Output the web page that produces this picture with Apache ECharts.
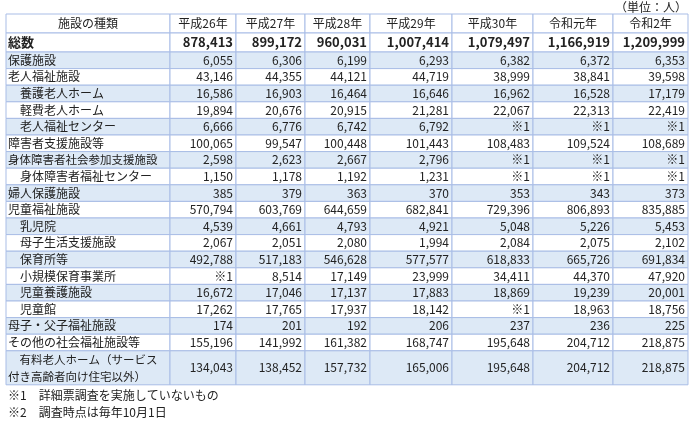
<!DOCTYPE html>
<html><head><meta charset="utf-8">
<script src="https://cdn.jsdelivr.net/npm/echarts@6/dist/echarts.min.js"></script>
<style>html,body{margin:0;padding:0;background:#fff}#c{width:693px;height:426px}</style>
</head><body><div id="c"></div>
<script>
var years = ['平成26年', '平成27年', '平成28年', '平成29年', '平成30年', '令和元年', '令和2年'];
var categories = ['総数', '保護施設', '老人福祉施設', '　養護老人ホーム', '　軽費老人ホーム', '　老人福祉センター',
    '障害者支援施設等', '身体障害者社会参加支援施設', '　身体障害者福祉センター', '婦人保護施設', '児童福祉施設',
    '　乳児院', '　母子生活支援施設', '　保育所等', '　小規模保育事業所', '　児童養護施設', '　児童館',
    '母子・父子福祉施設', 'その他の社会福祉施設等', '　有料老人ホーム（サービス\n付き高齢者向け住宅以外）'];
// null = ※1
var values = [
    [878413, 899172, 960031, 1007414, 1079497, 1166919, 1209999],
    [6055, 6306, 6199, 6293, 6382, 6372, 6353],
    [43146, 44355, 44121, 44719, 38999, 38841, 39598],
    [16586, 16903, 16464, 16646, 16962, 16528, 17179],
    [19894, 20676, 20915, 21281, 22067, 22313, 22419],
    [6666, 6776, 6742, 6792, null, null, null],
    [100065, 99547, 100448, 101443, 108483, 109524, 108689],
    [2598, 2623, 2667, 2796, null, null, null],
    [1150, 1178, 1192, 1231, null, null, null],
    [385, 379, 363, 370, 353, 343, 373],
    [570794, 603769, 644659, 682841, 729396, 806893, 835885],
    [4539, 4661, 4793, 4921, 5048, 5226, 5453],
    [2067, 2051, 2080, 1994, 2084, 2075, 2102],
    [492788, 517183, 546628, 577577, 618833, 665726, 691834],
    [null, 8514, 17149, 23999, 34411, 44370, 47920],
    [16672, 17046, 17137, 17883, 18869, 19239, 20001],
    [17262, 17765, 17937, 18142, null, 18963, 18756],
    [174, 201, 192, 206, 237, 236, 225],
    [155196, 141992, 161382, 168747, 195648, 204712, 218875],
    [134043, 138452, 157732, 165006, 195648, 204712, 218875]
];
var headerLabel = '施設の種類';
var unitNote = '（単位：人）';
var footnotes = ['※1　詳細票調査を実施していないもの', '※2　調査時点は毎年10月1日'];

// layout
var colX = [6, 170, 236, 305, 370, 452, 533, 613, 688];
var rowY = [14, 33, 52];
for (var r = 1; r < categories.length; r++) {
    rowY.push(rowY[rowY.length - 1] + (r === categories.length - 1 ? 34 : 16.6));
}
var font = '"Noto Sans CJK JP", sans-serif';

var cells = [];
for (var i = -1; i < categories.length; i++) {
    for (var j = -1; j < years.length; j++) {
        var txt;
        if (i < 0) txt = j < 0 ? headerLabel : years[j];
        else if (j < 0) txt = categories[i];
        else txt = values[i][j] === null ? '※1' : values[i][j].toLocaleString('en-US');
        cells.push([j + 1, i + 1, txt]);
    }
}

var chart = echarts.init(document.getElementById('c'));
chart.setOption({
    animation: false,
    grid: { left: 0, right: 0, top: 0, bottom: 0 },
    xAxis: { type: 'value', min: 0, max: 693, show: false },
    yAxis: { type: 'value', min: 0, max: 426, inverse: true, show: false },
    series: [{
        type: 'custom',
        data: cells,
        renderItem: function (params, api) {
            var c = api.value(0), r = api.value(1), txt = cells[params.dataIndex][2];
            var p0 = api.coord([colX[c], rowY[r]]), p1 = api.coord([colX[c + 1], rowY[r + 1]]);
            var shaded = r >= 2 && r % 2 === 0;
            var header = r === 0, bold = r === 1;
            var align = header ? 'center' : (c === 0 ? 'left' : 'right');
            var tx = header ? (p0[0] + p1[0]) / 2 : (c === 0 ? p0[0] + 2 : p1[0] - 3);
            return {
                type: 'group',
                children: [{
                    type: 'rect',
                    shape: { x: p0[0], y: p0[1], width: p1[0] - p0[0], height: p1[1] - p0[1] },
                    style: { fill: shaded ? '#dde9f6' : '#fff', stroke: '#a9bde6', lineWidth: 1 }
                }, {
                    type: 'text',
                    style: {
                        x: tx, y: (p0[1] + p1[1]) / 2, text: txt, align: align, verticalAlign: 'middle',
                        font: (bold ? 'bold 13px ' : (c === 0 && txt.length > 12 ? '11.5px ' : '12px ')) + font,
                        fill: '#222', lineHeight: 17
                    }
                }]
            };
        }
    }],
    graphic: [
        { type: 'text', right: 6, top: 1, style: { text: unitNote, font: '12px ' + font, fill: '#222' } },
        { type: 'text', left: 8, top: 389, style: { text: footnotes[0], font: '12px ' + font, fill: '#222' } },
        { type: 'text', left: 8, top: 406, style: { text: footnotes[1], font: '12px ' + font, fill: '#222' } }
    ]
});
</script></body></html>
